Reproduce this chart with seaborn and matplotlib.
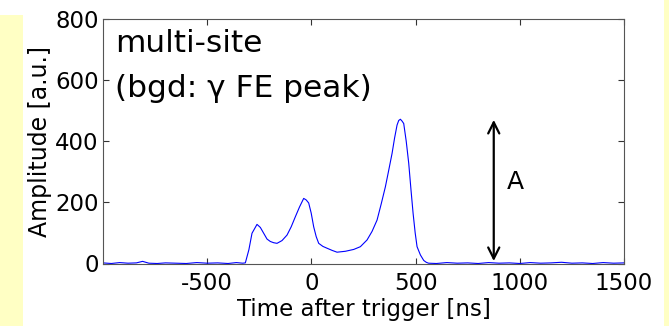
import matplotlib
matplotlib.use("Agg")
import matplotlib.pyplot as plt
import seaborn as sns
from matplotlib.patches import Rectangle

# pulse shape (time in ns, amplitude in a.u.)
time_ns = [-1000, -960, -920, -880, -840, -810, -780, -740, -700, -650, -600, -550,
           -500, -450, -400, -360, -330, -317, -300, -285, -261, -245, -229, -213,
           -197, -181, -165, -141, -117, -97, -77, -57, -37, -25, -13, -1, 11, 23,
           35, 55, 75, 99, 123, 163, 203, 235, 267, 291, 315, 335, 355, 371, 387,
           399, 411, 419, 427, 435, 443, 455, 467, 478, 488, 498, 507, 523, 539,
           551, 562, 600, 650, 700, 750, 800, 850, 900, 950, 1000, 1050, 1100,
           1150, 1200, 1250, 1300, 1350, 1400, 1450, 1500]
amplitude = [2, 0, 3, 1, 2, 7, 1, 0, 2, 1, 0, 3,
             1, 2, 0, 3, 1, 2, 45, 99, 128, 118, 99, 80,
             72, 68, 66, 75, 93, 120, 153, 185, 213, 208, 198, 165, 120, 88,
             66, 56, 50, 43, 37, 40, 46, 55, 77, 105, 142, 195, 251, 305, 360,
             410, 453, 468, 472, 466, 458, 400, 328, 240, 164, 100, 55, 28, 10,
             4, 1, 0, 3, 1, 2, 0, 3, 1, 2, 0, 3, 1,
             2, 4, 1, 2, 0, 3, 1, 2]

x_ticks = [-500, 0, 500, 1000, 1500]
y_ticks = [0, 200, 400, 600, 800]
arrow_x = 875
arrow_top = 470

sns.set_theme(style="ticks")
plt.rcParams["font.family"] = ["DejaVu Sans"]
plt.rcParams["axes.unicode_minus"] = False
plt.rcParams["text.color"] = "black"
plt.rcParams["axes.labelcolor"] = "black"

fig = plt.figure(figsize=(6.69, 3.26), dpi=100)
fig.patch.set_facecolor("white")
yellow = "#ffffc4"
fig.patches.append(Rectangle((0, 0), 23 / 669, 311 / 326, transform=fig.transFigure,
                             facecolor=yellow, edgecolor="none", zorder=0))
fig.patches.append(Rectangle((664 / 669, 0), 5 / 669, 1, transform=fig.transFigure,
                             facecolor=yellow, edgecolor="none", zorder=0))

ax = fig.add_axes([103 / 669, 1 - 263.5 / 326, 521 / 669, 244.5 / 326])
sns.lineplot(x=time_ns, y=amplitude, ax=ax, color="blue", lw=0.8)

ax.set_xlim(-1000, 1500)
ax.set_ylim(0, 800)
ax.set_xticks(x_ticks)
ax.set_yticks(y_ticks)
ax.tick_params(direction="in", top=True, right=True, length=4, width=0.8,
               labelsize=16.5, colors="#333333", labelcolor="black")
ax.tick_params(axis="x", pad=6)
ax.tick_params(axis="y", pad=3)
for sp in ax.spines.values():
    sp.set_visible(True)
    sp.set_color("#555555")
    sp.set_linewidth(0.8)

ax.set_xlabel("Time after trigger [ns]", fontsize=16.5, labelpad=2)
ax.set_ylabel("Amplitude [a.u.]", fontsize=17, labelpad=2)

ax.text(-941, 691, "multi-site", fontsize=22.5, va="baseline", ha="left")
ax.text(-941, 545, "(bgd: \u03b3 FE peak)", fontsize=22.5, va="baseline", ha="left")

ax.annotate("", xy=(arrow_x, arrow_top), xytext=(arrow_x, 8),
            arrowprops=dict(arrowstyle="<->", lw=1.6, color="black",
                            mutation_scale=20, shrinkA=0, shrinkB=0))
ax.text(978, 267, "A", fontsize=18, ha="center", va="center")

fig.savefig("out.png", dpi=100)
